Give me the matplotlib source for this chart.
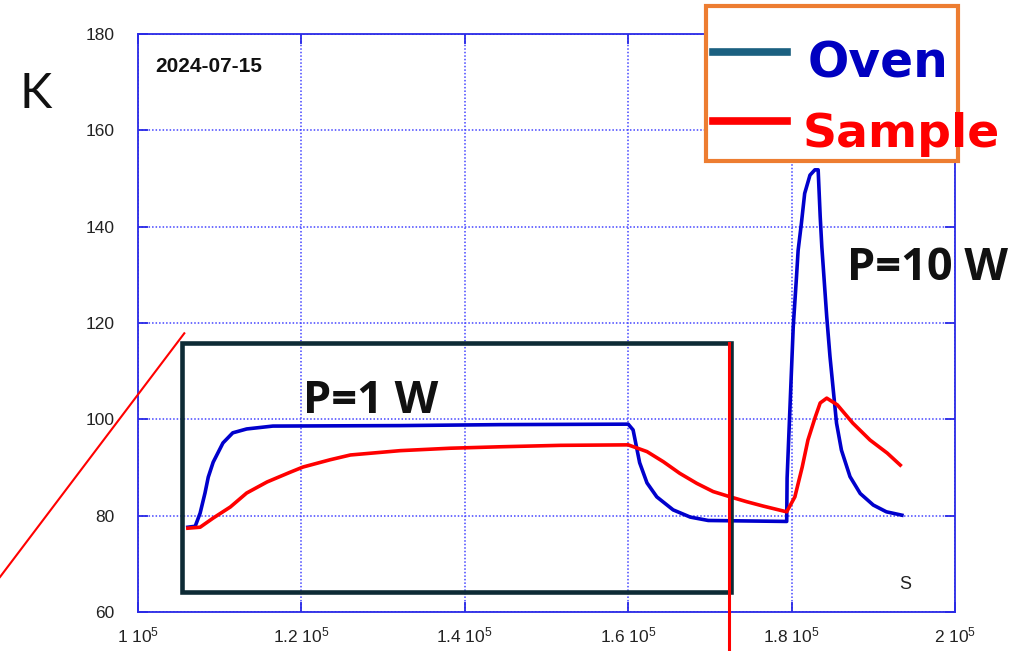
import matplotlib.pyplot as plt
from matplotlib.patches import Rectangle
from matplotlib.lines import Line2D

plt.rcParams['font.family'] = 'Liberation Sans'
plt.rcParams['mathtext.default'] = 'regular'

# time in kiloseconds, temperature in K
oven_t = [106.1, 107.0, 107.6, 108.2, 108.6, 109.2, 110.4, 111.6, 113.3, 116.5,
          132.1, 144.3, 160.0, 160.6, 161.4, 162.3, 163.5, 165.5, 167.6, 169.8,
          179.4, 179.45, 180.2, 180.6, 180.8, 181.2, 181.6, 182.25, 182.85, 183.25,
          183.5, 183.7, 183.9, 184.3, 184.7, 185.1, 185.5, 186.1, 187.15, 188.4,
          190.0, 191.6, 193.5]
oven_K = [77.6, 77.8, 80.5, 84.7, 88.0, 91.1, 95.1, 97.2, 98.0, 98.6,
          98.7, 98.9, 99.0, 97.8, 91.0, 86.8, 83.9, 81.2, 79.7, 79.0,
          78.8, 87.8, 119.2, 129.6, 135.1, 140.7, 146.9, 150.7, 151.8, 151.8,
          142.1, 135.8, 131.0, 121.3, 113.0, 106.1, 99.2, 93.6, 88.1, 84.6,
          82.2, 80.8, 80.1]

sample_t = [106.1, 107.6, 109.2, 111.3, 113.3, 115.8, 118.6, 120.2, 123.5, 126.0,
            132.1, 138.2, 144.3, 151.7, 160.0, 162.3, 164.3, 166.3, 168.4, 170.4,
            172.5, 174.5, 176.5, 178.9, 179.4, 180.4, 181.3, 182.0, 182.9, 183.5,
            184.3, 185.6, 187.5, 189.6, 191.7, 193.3]
sample_K = [77.4, 77.6, 79.5, 81.8, 84.7, 87.0, 89.0, 90.1, 91.6, 92.6,
            93.5, 94.0, 94.3, 94.6, 94.7, 93.3, 91.2, 88.8, 86.7, 85.0,
            83.9, 82.9, 82.0, 81.0, 80.8, 83.9, 90.1, 95.7, 100.5, 103.4,
            104.4, 103.0, 99.2, 95.7, 93.0, 90.5]

x_ticks = [1.0e5, 1.2e5, 1.4e5, 1.6e5, 1.8e5, 2.0e5]
x_tick_labels = ['1 10$^5$', '1.2 10$^5$', '1.4 10$^5$', '1.6 10$^5$', '1.8 10$^5$', '2 10$^5$']
y_ticks = [60, 80, 100, 120, 140, 160, 180]

W, H = 1033, 651


def fx(x):
    return x / W


def fy(y):
    return 1 - y / H


fig = plt.figure(figsize=(W / 100, H / 100), dpi=100)
ax = fig.add_axes([fx(138), fy(612), 817 / W, 578 / H])

ax.plot([t * 1e3 for t in oven_t], oven_K, color='#0000cc', lw=2.6, zorder=3)
ax.plot([t * 1e3 for t in sample_t], sample_K, color='#ff0000', lw=2.6, zorder=3)

ax.set_xlim(1e5, 2e5)
ax.set_ylim(60, 180)
ax.set_xticks(x_ticks)
ax.set_xticklabels(x_tick_labels)
ax.set_yticks(y_ticks)
ax.grid(True, color='#4444ff', linestyle=(0, (1, 1.3)), lw=1.1)
for s in ax.spines.values():
    s.set_color('#2a2ae6')
    s.set_linewidth(1.3)
ax.tick_params(direction='in', length=7, width=1.3, color='#2a2ae6',
               top=True, right=True, labelsize=12.5, labelcolor='#222222')
ax.tick_params(axis='y', pad=17)
ax.tick_params(axis='x', pad=10)

ax.text(0.021, 0.934, '2024-07-15', transform=ax.transAxes,
        fontsize=15, fontweight='bold', color='#111111', va='baseline')
ax.text(0.939, 0.048, 'S', transform=ax.transAxes, fontsize=13,
        color='#222222', ha='center', va='center')

# unit label on the left
fig.text(fx(20), fy(108), 'K', fontsize=35, family='Lato', fontweight='normal',
         color='#111111', va='baseline')

# highlighted low-power region
fig.add_artist(Rectangle((fx(181.7), fy(591.7)), (730.7 - 181.7) / W, (591.7 - 342.7) / H,
                         transform=fig.transFigure, fill=False,
                         edgecolor='#0e2b35', lw=3.3, zorder=4))
fig.add_artist(Line2D([fx(184.3), fx(0)], [fy(333.3), fy(577)],
                      transform=fig.transFigure, color='#ff0000', lw=1.5, zorder=4))
fig.add_artist(Line2D([fx(728.5), fx(728.5)], [fy(343), fy(651)],
                      transform=fig.transFigure, color='#ff0000', lw=2.2, zorder=4))

fig.text(fx(303), fy(413), 'P=1 W', fontsize=32.5, family='Open Sans',
         fontweight='bold', color='#111111', va='baseline', zorder=5)
fig.text(fx(847), fy(280), 'P=10 W', fontsize=32.5, family='Open Sans',
         fontweight='bold', color='#111111', va='baseline', zorder=5)

# legend box
fig.add_artist(Rectangle((fx(705.5), fy(161)), 252.5 / W, 155 / H,
                         transform=fig.transFigure, facecolor='white',
                         edgecolor='#ed7d31', lw=3, zorder=5))
fig.add_artist(Line2D([fx(713), fx(787)], [fy(52), fy(52)],
                      transform=fig.transFigure, color='#1b6080', lw=5.5, zorder=6))
fig.add_artist(Line2D([fx(713), fx(787)], [fy(121), fy(121)],
                      transform=fig.transFigure, color='#ff0000', lw=5.5, zorder=6))
fig.text(fx(808), fy(77), 'Oven', fontsize=35, family='DejaVu Sans',
         fontweight='bold', color='#0000c0', va='baseline', zorder=7)
fig.text(fx(803), fy(147), 'Sample', fontsize=34, family='DejaVu Sans',
         fontweight='bold', color='#ff0000', va='baseline', zorder=7)

fig.savefig('out.png', dpi=100)
